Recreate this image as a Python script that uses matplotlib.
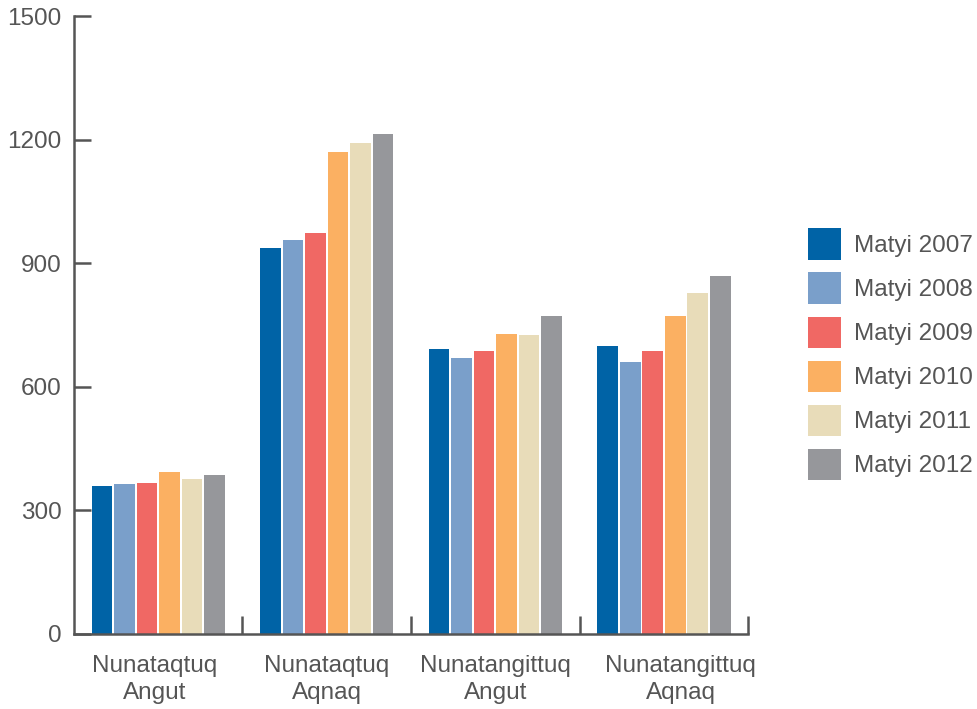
import numpy as np
import matplotlib.pyplot as plt

plt.rcParams['font.family'] = ['Liberation Sans', 'DejaVu Sans']

categories = ["Nunataqtuq\nAngut", "Nunataqtuq\nAqnaq", "Nunatangittuq\nAngut", "Nunatangittuq\nAqnaq"]
years = ["Matyi 2007", "Matyi 2008", "Matyi 2009", "Matyi 2010", "Matyi 2011", "Matyi 2012"]
v2007 = [359, 937, 691, 700]
v2008 = [364, 956, 669, 659]
v2009 = [366, 973, 688, 688]
v2010 = [393, 1170, 727, 771]
v2011 = [376, 1192, 725, 827]
v2012 = [386, 1214, 773, 868]
series = [v2007, v2008, v2009, v2010, v2011, v2012]
colors = ["#0063A6", "#7A9FCA", "#F06864", "#FBB062", "#E8DCB9", "#96979B"]

gray = "#555555"
fig = plt.figure(figsize=(9.77, 7.09), dpi=100)
ax = fig.add_axes([0.0757, 0.1058, 0.69, 0.8716])

x = np.arange(len(categories)) + 0.5
slot = 0.1335
for i, (vals, c, lab) in enumerate(zip(series, colors, years)):
    ax.bar(x + (i - 2.5) * slot, vals, width=0.124, color=c, label=lab)

ax.set_xlim(0, 4)
ax.set_ylim(0, 1500)
ax.set_yticks([0, 300, 600, 900, 1200, 1500])
# label spots are a bit off-centre in the source (last one sits right)
ax.set_xticks(x + np.array([-0.02, 0, 0, 0.1]))
ax.set_xticklabels(categories, linespacing=1.3)
ax.set_xticks([1, 2, 3, 4], minor=True)

for s in ["top", "right"]:
    ax.spines[s].set_visible(False)
for s in ["left", "bottom"]:
    ax.spines[s].set_color(gray)
    ax.spines[s].set_linewidth(1.8)

ax.tick_params(axis='y', direction='in', length=12, width=1.8, color=gray,
               labelsize=17.5, labelcolor=gray, pad=9)
ax.tick_params(axis='x', which='major', length=0, labelsize=17.5, labelcolor=gray, pad=15)
ax.tick_params(axis='x', which='minor', direction='in', length=13, width=1.8, color=gray)

ax.legend(loc='upper left', bbox_to_anchor=(0.827, 0.678), bbox_transform=fig.transFigure,
          frameon=False, fontsize=17.5, handlelength=1.36, handleheight=1.6,
          labelspacing=0.53, handletextpad=0.55, borderpad=0, borderaxespad=0,
          labelcolor=gray)

plt.savefig('out.png', dpi=100)
